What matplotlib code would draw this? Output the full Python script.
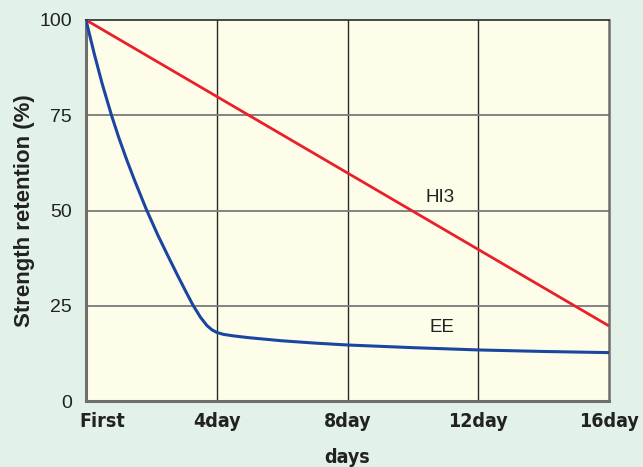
import matplotlib
matplotlib.use("Agg")
import matplotlib.pyplot as plt
import matplotlib.transforms as mtransforms

# data
tick_days = [0, 4, 8, 12, 16]
tick_labels = ["First", "4day", "8day", "12day", "16day"]

hi3_days = [0, 16]
hi3_values = [100, 19.7]

ee_days = [0, 0.25, 0.5, 0.78, 1.0, 1.25, 1.5, 1.85, 2.2, 2.5, 2.8, 3.05, 3.27,
           3.5, 3.7, 3.85, 4.0, 4.2, 4.5, 5.0, 6.0, 7.0, 8.0, 10, 12, 14, 16]
ee_values = [100, 91.2, 83.1, 75, 69.2, 63.2, 57.6, 50.2, 43.5, 38.2, 33.0, 28.8, 25.2,
             22.0, 19.8, 18.7, 18.0, 17.5, 17.1, 16.6, 15.8, 15.2, 14.7, 14.0, 13.4, 13.0, 12.7]

bg = "#e2f2e9"
face = "#fefde9"
sans = ["Liberation Sans", "DejaVu Sans"]

fig = plt.figure(figsize=(6.43, 4.67), dpi=100, facecolor=bg)
ax = fig.add_axes([86 / 643, 1 - 401 / 467, (609 - 86) / 643, (401 - 20) / 467])
ax.set_facecolor(face)

# grid
for d in tick_days[1:-1]:
    ax.axvline(d, color="#2a2a2a", lw=1.0, zorder=1)
for v in [25, 50, 75]:
    ax.axhline(v, color="#7a7a7a", lw=1.3, zorder=1)

ax.plot(hi3_days, hi3_values, color="#e8202a", lw=2.0, zorder=3, solid_capstyle="butt")
ax.plot(ee_days, ee_values, color="#1a45a0", lw=2.2, zorder=3)

ax.text(10.83, 53.5, "HI3", fontsize=13.5, family=sans, ha="center", va="center", color="#222222")
ax.text(10.9, 19.2, "EE", fontsize=13.5, family=sans, ha="center", va="center", color="#222222")

ax.set_xlim(0, 16)
ax.set_ylim(0, 100)
ax.set_xticks(tick_days)
ax.set_xticklabels(tick_labels, fontsize=14, family="DejaVu Sans", fontstretch="condensed",
                   fontweight="bold", color="#222222")
ax.set_yticks([0, 25, 50, 75, 100])
ax.set_yticklabels(["0", "25", "50", "75", "100"], fontsize=14, family=sans, color="#222222")
ax.tick_params(length=0, pad=8)
ax.tick_params(axis="y", pad=10)

# "First" sits left-aligned just left of the axis origin
first = ax.get_xticklabels()[0]
first.set_horizontalalignment("left")
first.set_transform(first.get_transform() + mtransforms.ScaledTranslation(-7 / 100, 0, fig.dpi_scale_trans))

for side in ["left", "bottom"]:
    ax.spines[side].set_color("#6e6e6e")
    ax.spines[side].set_linewidth(2.2)
ax.spines["right"].set_color("#6e6e6e")
ax.spines["right"].set_linewidth(1.8)
ax.spines["top"].set_color("#2a2a2a")
ax.spines["top"].set_linewidth(1.2)

ax.set_ylabel("Strength retention (%)", fontsize=16, family=sans, fontweight="bold",
              color="#222222", labelpad=3)
ax.set_xlabel("days", fontsize=14, family="DejaVu Sans", fontstretch="condensed",
              fontweight="bold", color="#222222", labelpad=12)

fig.savefig("out.png", dpi=100, facecolor=bg)
